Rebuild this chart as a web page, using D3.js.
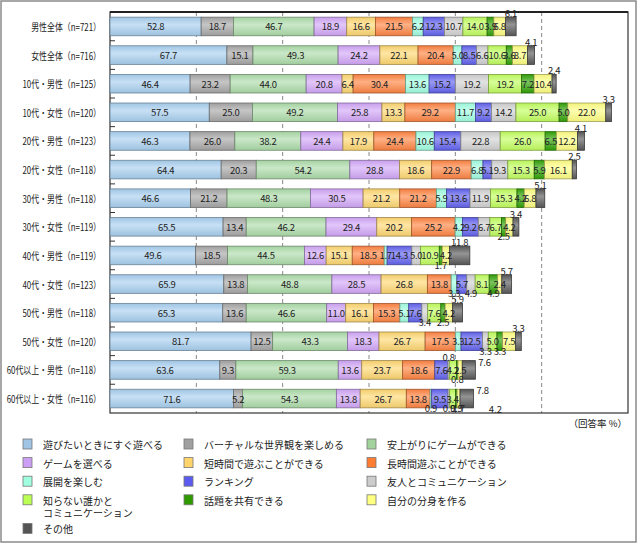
<!DOCTYPE html>
<html>
<head>
<meta charset="utf-8">
<script src="https://cdn.jsdelivr.net/npm/d3@7"></script>
<style>
  body { margin: 0; background: #fff; }
  text { font-family: "Noto Sans CJK JP", "Noto Sans", sans-serif; fill: #222; }
</style>
</head>
<body>
<div id="vis"></div>
<script>
// categories (rows) and series names
let rows = ['男性全体（n=721）', '女性全体（n=716）', '10代・男性（n=125）', '10代・女性（n=120）',
    '20代・男性（n=123）', '20代・女性（n=118）', '30代・男性（n=118）', '30代・女性（n=119）',
    '40代・男性（n=119）', '40代・女性（n=123）', '50代・男性（n=118）', '50代・女性（n=120）',
    '60代以上・男性（n=118）', '60代以上・女性（n=116）'];

let seriesNames = ['遊びたいときにすぐ遊べる', 'バーチャルな世界観を楽しめる', '安上がりにゲームができる',
    'ゲームを選べる', '短時間で遊ぶことができる', '長時間遊ぶことができる',
    '展開を楽しむ', 'ランキング', '友人とコミュニケーション',
    '知らない誰かと\nコミュニケーション', '話題を共有できる', '自分の分身を作る', 'その他'];

// one array per row, in series order
let v_male = [52.8, 18.7, 46.7, 18.9, 16.6, 21.5, 6.2, 12.3, 10.7, 14.0, 3.9, 6.8, 6.1];
let v_female = [67.7, 15.1, 49.3, 24.2, 22.1, 20.4, 5.0, 8.5, 6.6, 10.6, 3.6, 8.7, 4.1];
let v_10m = [46.4, 23.2, 44.0, 20.8, 6.4, 30.4, 13.6, 15.2, 19.2, 19.2, 7.2, 10.4, 2.4];
let v_10f = [57.5, 25.0, 49.2, 25.8, 13.3, 29.2, 11.7, 9.2, 14.2, 25.0, 5.0, 22.0, 3.3];
let v_20m = [46.3, 26.0, 38.2, 24.4, 17.9, 24.4, 10.6, 15.4, 22.8, 26.0, 6.5, 12.2, 4.1];
let v_20f = [64.4, 20.3, 54.2, 28.8, 18.6, 22.9, 6.8, 5.1, 9.3, 15.3, 5.9, 16.1, 2.5];
let v_30m = [46.6, 21.2, 48.3, 30.5, 21.2, 21.2, 5.9, 13.6, 11.9, 15.3, 4.2, 6.8, 5.1];
let v_30f = [65.5, 13.4, 46.2, 29.4, 20.2, 25.2, 4.2, 9.2, 6.7, 6.7, 2.5, 4.2, 3.4];
let v_40m = [49.6, 18.5, 44.5, 12.6, 15.1, 18.5, 1.7, 14.3, 5.0, 10.9, 1.7, 4.2, 11.8];
let v_40f = [65.9, 13.8, 48.8, 28.5, 26.8, 13.8, 3.3, 5.7, 4.9, 8.1, 4.9, 2.4, 5.7];
let v_50m = [65.3, 13.6, 46.6, 11.0, 16.1, 15.3, 5.1, 7.6, 3.4, 7.6, 2.5, 4.2, 5.9];
let v_50f = [81.7, 12.5, 43.3, 18.3, 26.7, 17.5, 3.3, 12.5, 3.3, 5.0, 3.3, 7.5, 3.3];
let v_60m = [63.6, 9.3, 59.3, 13.6, 23.7, 18.6, 0, 7.6, 0.8, 4.2, 0.8, 2.5, 7.6];
let v_60f = [71.6, 5.2, 54.3, 13.8, 26.7, 13.8, 0.9, 9.5, 0.9, 3.4, 0.9, 1.7, 7.8];

let values = [v_male, v_female, v_10m, v_10f, v_20m, v_20f, v_30m, v_30f,
    v_40m, v_40f, v_50m, v_50f, v_60m, v_60f];

let xTicks = [50, 100, 150, 200, 250];

let colors = ['#a9d0f0', '#a8a8a8', '#addcaa', '#d2a8f8', '#ffd873', '#ff8544', '#a2ffe2',
    '#6464f0', '#d2d2d2', '#c2ff60', '#33a308', '#ffff84', '#5a5a5a'];
let legendColors = ['#9fc4e4', '#a0a0a0', '#a3d39c', '#cc9ff5', '#ffd56b', '#ff7c33', '#a0ffdf',
    '#5a5aee', '#cccccc', '#bbff55', '#2e9a00', '#ffff80', '#555555'];

// where a value label sits when it is not centred in its segment
let labelPos = {
    '7-10': 'below', '8-10': 'below',
    '9-6': 'below', '9-8': 'below', '9-10': 'below',
    '10-8': 'below', '10-10': 'below',
    '11-8': 'below', '11-10': 'below',
    '12-8': 'above', '12-10': 'below', '12-12': 'right',
    '13-6': 'below', '13-8': 'below', '13-10': 'below', '13-11': 'below', '13-12': 'right'
};

let W = 637, H = 543;
let svg = d3.select('#vis').append('svg')
    .attr('width', W).attr('height', H);

// outer border
svg.append('rect').attr('x', 1).attr('y', 1).attr('width', W - 2).attr('height', H - 2)
    .attr('fill', '#fff').attr('stroke', '#8a8a8a').attr('stroke-width', 1.5);

let x = d3.scaleLinear().domain([0, 300]).range([110, 628]);
let y = d3.scaleBand().domain(rows).range([12, 413]).paddingInner(0.35).paddingOuter(0.18);

// gradients
let defs = svg.append('defs');
colors.forEach(function(c, i) {
    let g = defs.append('linearGradient').attr('id', 'g' + i)
        .attr('x1', 0).attr('y1', 0).attr('x2', 0).attr('y2', 1);
    g.append('stop').attr('offset', '0%').attr('stop-color', d3.color(c).darker(0.15));
    g.append('stop').attr('offset', '40%').attr('stop-color', d3.interpolateRgb(c, '#fff')(0.35));
    g.append('stop').attr('offset', '100%').attr('stop-color', d3.color(c).darker(0.2));
});

// grid
svg.append('g').selectAll('line').data(xTicks).join('line')
    .attr('x1', d => x(d)).attr('x2', d => x(d))
    .attr('y1', 12).attr('y2', 413)
    .attr('stroke', '#888').attr('stroke-dasharray', '4,3');

// row separators ticks
svg.append('g').selectAll('line').data(rows.slice(1)).join('line')
    .attr('x1', 110).attr('x2', 115)
    .attr('y1', d => y(d) - y.step() * y.paddingInner() / 2)
    .attr('y2', d => y(d) - y.step() * y.paddingInner() / 2)
    .attr('stroke', '#333');

// frame
svg.append('rect').attr('x', 110).attr('y', 12).attr('width', 518).attr('height', 401)
    .attr('fill', 'none').attr('stroke', '#333').attr('stroke-width', 1.2);
svg.append('line').attr('x1', 110).attr('x2', 628).attr('y1', 12).attr('y2', 12)
    .attr('stroke', '#222').attr('stroke-width', 2);

// stacked segments
let segs = [];
values.forEach(function(vals, r) {
    let acc = 0;
    vals.forEach(function(v, s) {
        segs.push({ r: r, s: s, v: v, x0: acc, x1: acc + v });
        acc += v;
    });
});

let bars = svg.append('g');
bars.selectAll('rect').data(segs.filter(d => d.v > 0)).join('rect')
    .attr('x', d => x(d.x0)).attr('width', d => x(d.x1) - x(d.x0))
    .attr('y', d => y(rows[d.r])).attr('height', y.bandwidth())
    .attr('fill', d => 'url(#g' + d.s + ')')
    .attr('stroke', d => d3.color(colors[d.s]).darker(1.3))
    .attr('stroke-width', 0.8);

// value labels
function labelPlace(d) {
    let key = d.r + '-' + d.s;
    let p = labelPos[key] || (d.s === 12 ? 'above' : 'in');
    let top = y(rows[d.r]), bw = y.bandwidth();
    let cx = (x(d.x0) + x(d.x1)) / 2;
    if (p === 'above') return { x: cx, y: top - 4, a: 'middle' };
    if (p === 'below') return { x: cx, y: top + bw, a: 'middle' };
    if (p === 'right') return { x: x(d.x1) + 3, y: top + 1, a: 'start' };
    return { x: cx, y: top + bw / 2, a: 'middle' };
}

svg.append('g').selectAll('text').data(segs.filter(d => d.v > 0)).join('text')
    .each(function(d) {
        let p = labelPlace(d);
        d3.select(this).attr('x', p.x).attr('y', p.y).attr('text-anchor', p.a);
    })
    .attr('dominant-baseline', 'central')
    .attr('font-size', '9.5px')
    .attr('letter-spacing', '-0.3px')
    .text(d => d.v.toFixed(1));

// stray label under the last row in the original
svg.append('text')
    .attr('x', x(d3.sum(v_60f)) + 22).attr('y', y(rows[13]) + y.bandwidth() + 1)
    .attr('dominant-baseline', 'central').attr('text-anchor', 'middle')
    .attr('font-size', '9.5px').text('4.2');

// row labels, squeezed to the narrow face of the original
svg.append('g').selectAll('text').data(rows).join('text')
    .attr('x', 101).attr('y', d => y(d) + y.bandwidth() / 2)
    .attr('text-anchor', 'end').attr('dominant-baseline', 'central')
    .attr('font-size', '10px')
    .text(d => d)
    .each(function() {
        let len = this.getComputedTextLength();
        d3.select(this).attr('textLength', len * 0.79).attr('lengthAdjust', 'spacingAndGlyphs');
    });

svg.append('text').attr('x', 627).attr('y', 423)
    .attr('text-anchor', 'end').attr('dominant-baseline', 'central')
    .attr('font-size', '9.5px').text('（回答率 %）');

// legend
let legend = svg.append('g');
seriesNames.forEach(function(name, i) {
    let col = i % 3, row = Math.floor(i / 3);
    let lx = [23, 184, 367][col];
    let ly = 444 + row * 18.6 + (row >= 4 ? 10 : 0);
    legend.append('rect').attr('x', lx).attr('y', ly - 5).attr('width', 9).attr('height', 10)
        .attr('fill', legendColors[i]).attr('stroke', '#777').attr('stroke-width', 0.8);
    let t = legend.append('text').attr('x', lx + 20).attr('y', ly)
        .attr('dominant-baseline', 'central').attr('font-size', '10px');
    name.split('\n').forEach(function(line, k) {
        t.append('tspan').attr('x', lx + 20).attr('dy', k === 0 ? 0 : 12).text(line);
    });
});
</script>
</body>
</html>
